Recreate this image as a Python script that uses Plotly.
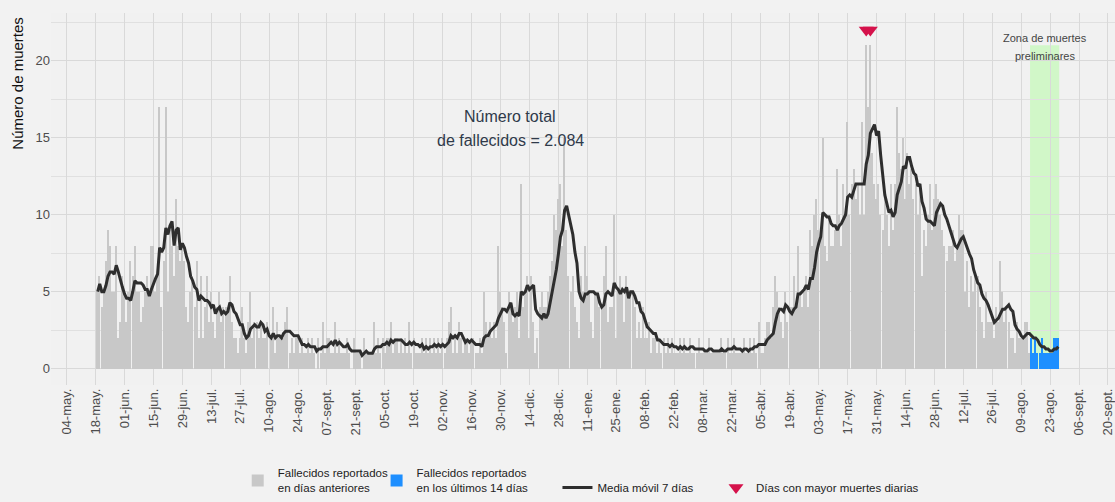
import pandas as pd
import plotly.graph_objects as go

# ---- data: daily deaths (first day 2020-05-19) ----
start_date = "2020-05-19"
may_2020 = [5, 6, 4, 5, 7, 9, 8, 5, 5, 8, 2, 3, 6]
jun_2020 = [5, 3, 5, 7, 6, 8, 5, 5, 3, 4, 5, 6, 5, 8, 8, 5, 6, 17, 4, 7, 17, 5,
            9, 8, 6, 11, 8, 7, 8, 7]
jul_2020 = [4, 3, 5, 6, 4, 7, 2, 6, 2, 4, 6, 3, 5, 3, 2, 4, 5, 3, 4, 4, 4, 6, 3,
            2, 2, 1, 2, 4, 2, 1, 3]
aug_2020 = [5, 2, 3, 3, 2, 3, 2, 2, 3, 0, 2, 4, 1, 3, 2, 2, 2, 3, 4, 1, 2, 1, 2,
            2, 1, 2, 1, 1, 2, 1, 2]
sep_2020 = [1, 0, 2, 1, 3, 1, 2, 2, 1, 1, 3, 1, 2, 1, 1, 1, 2, 1, 0, 2, 1, 1, 1,
            0, 2, 1, 1, 1, 1, 3]
oct_2020 = [1, 2, 1, 2, 1, 2, 2, 3, 1, 2, 2, 1, 2, 1, 2, 1, 3, 1, 2, 1, 1, 1, 2,
            1, 2, 1, 2, 1, 2, 1, 2]
nov_2020 = [1, 2, 1, 2, 3, 4, 1, 2, 1, 3, 2, 1, 2, 2, 1, 2, 2, 1, 1, 2, 1, 5, 3,
            2, 3, 2, 3, 2, 8, 5]
dec_2020 = [4, 3, 1, 5, 4, 3, 4, 5, 2, 12, 4, 5, 6, 2, 6, 3, 1, 2, 4, 5, 4, 4, 5,
            6, 7, 10, 9, 11, 12, 8, 15]
jan_2021 = [9, 6, 5, 6, 4, 3, 2, 6, 5, 8, 6, 5, 3, 2, 5, 5, 4, 4, 6, 8, 3, 4, 4,
            10, 2, 5, 6, 5, 3, 6, 5]
feb_2021 = [5, 5, 4, 2, 3, 2, 4, 2, 2, 3, 1, 2, 2, 1, 2, 1, 2, 1, 2, 1, 2, 1, 1,
            1, 2, 1, 2, 1]
mar_2021 = [1, 2, 1, 1, 1, 2, 1, 1, 1, 1, 2, 1, 1, 1, 1, 1, 2, 1, 1, 2, 1, 1, 2,
            1, 1, 1, 1, 2, 1, 1, 2]
apr_2021 = [1, 2, 1, 3, 1, 1, 2, 3, 3, 2, 4, 6, 5, 4, 3, 2, 5, 3, 4, 4, 6, 4, 8,
            5, 4, 5, 6, 4, 9, 8]
may_2021 = [10, 11, 9, 9, 15, 8, 7, 10, 8, 8, 9, 13, 10, 8, 12, 10, 16, 10, 12,
            13, 11, 12, 10, 16, 10, 21, 17, 21, 14, 12, 11]
jun_2021 = [12, 10, 9, 11, 10, 8, 12, 9, 12, 17, 14, 13, 15, 11, 14, 12, 13, 11,
            12, 10, 12, 6, 9, 8, 10, 12, 9, 11, 12, 11]
jul_2021 = [10, 9, 8, 7, 8, 8, 9, 7, 8, 10, 9, 9, 5, 7, 4, 6, 5, 6, 6, 4, 3, 2, 5,
            3, 3, 3, 2, 4, 3, 7, 5]
aug_2021 = [3, 4, 3, 2, 2, 1, 3, 2, 2, 2, 3, 3, 1, 2, 1, 2, 1, 1, 2, 1, 1, 1, 1,
            1, 2, 2, 2]

recent_days = 14
total_text = "2.084"

tick_labels = ["04-may.", "18-may.", "01-jun.", "15-jun.", "29-jun.", "13-jul.",
               "27-jul.", "10-ago.", "24-ago.", "07-sept.", "21-sept.", "05-oct.",
               "19-oct.", "02-nov.", "16-nov.", "30-nov.", "14-dic.", "28-dic.",
               "11-ene.", "25-ene.", "08-feb.", "22-feb.", "08-mar.", "22-mar.",
               "05-abr.", "19-abr.", "03-may.", "17-may.", "31-may.", "14-jun.",
               "28-jun.", "12-jul.", "26-jul.", "09-ago.", "23-ago.", "06-sept.",
               "20-sept."]
first_tick = "2020-05-04"

# ---- derived ----
deaths = (may_2020 + jun_2020 + jul_2020 + aug_2020 + sep_2020 + oct_2020 +
          nov_2020 + dec_2020 + jan_2021 + feb_2021 + mar_2021 + apr_2021 +
          may_2021 + jun_2021 + jul_2021 + aug_2021)
dates = pd.date_range(start_date, periods=len(deaths), freq="D")
s = pd.Series(deaths, index=dates)
ma7 = s.rolling(7, min_periods=1).mean()
old = s.iloc[:-recent_days]
new = s.iloc[-recent_days:]
peaks = s[s == s.max()]
tick_vals = pd.date_range(first_tick, periods=len(tick_labels), freq="14D")

FONT = "Arial, Liberation Sans, sans-serif"
DAY = 86400000
GRID = "#d9d9d9"

fig = go.Figure()
fig.add_trace(go.Bar(x=old.index, y=old.values, width=0.72 * DAY,
                     marker=dict(color="#c8c8c8", line=dict(width=0)),
                     name="Fallecidos reportados<br>en días anteriores",
                     legend="legend"))
fig.add_trace(go.Bar(x=new.index, y=new.values, width=0.72 * DAY,
                     marker=dict(color="#1e8fff", line=dict(width=0)),
                     name="Fallecidos reportados<br>en los últimos 14 días",
                     legend="legend2"))
fig.add_trace(go.Scatter(x=ma7.index, y=ma7.values, mode="lines",
                         line=dict(color="#2e2e2e", width=3),
                         name="Media móvil 7 días", legend="legend3"))
fig.add_trace(go.Scatter(x=peaks.index, y=peaks.values + 1, mode="markers",
                         marker=dict(symbol="triangle-down", size=13,
                                     color="#d5124b"),
                         name="Días con mayor muertes diarias", legend="legend4"))

zone_start = new.index[0] - pd.Timedelta(hours=17)
zone_end = new.index[-1] + pd.Timedelta(hours=10)
fig.add_shape(type="rect", xref="x", yref="y", x0=zone_start, x1=zone_end,
              y0=0, y1=21, fillcolor="rgba(170,255,150,0.45)",
              line=dict(width=0), layer="below")

zone_mid = zone_start + (zone_end - zone_start) / 2
fig.add_annotation(x=zone_mid, y=21.5, xref="x", yref="y", text="Zona de muertes",
                   showarrow=False, font=dict(family=FONT, size=11, color="#444444"))
fig.add_annotation(x=zone_mid, y=20.3, xref="x", yref="y", text="preliminares",
                   showarrow=False, font=dict(family=FONT, size=11, color="#444444"))
fig.add_annotation(x=pd.Timestamp("2020-12-04 14:00"), y=16.4, xref="x", yref="y",
                   text="Número total", showarrow=False,
                   font=dict(family=FONT, size=16, color="#2f3a4a"))
fig.add_annotation(x=pd.Timestamp("2020-12-04 14:00"), y=14.8, xref="x", yref="y",
                   text="de fallecidos = " + total_text, showarrow=False,
                   font=dict(family=FONT, size=16, color="#2f3a4a"))
# y-axis title (placed like the reference: near the top, left edge)
fig.add_annotation(x=-0.031, y=0.81, xref="paper", yref="paper",
                   text="Número de muertes", textangle=-90, showarrow=False,
                   xanchor="center", yanchor="middle",
                   font=dict(family=FONT, size=15, color="#111111"))

legend_style = dict(orientation="h", xanchor="left", yref="container",
                    y=0, yanchor="bottom",
                    font=dict(family=FONT, size=11.5, color="#222222"),
                    bgcolor="rgba(0,0,0,0)", itemwidth=30)

fig.update_layout(
    width=1115, height=502,
    margin=dict(l=51, r=0, t=13, b=117),
    paper_bgcolor="#f2f2f2", plot_bgcolor="#f1f1f1",
    barmode="overlay", bargap=0,
    font=dict(family=FONT, size=13, color="#4d4d4d"),
    showlegend=True,
    legend=dict(x=0.1755, **legend_style),
    legend2=dict(x=0.306, **legend_style),
    legend3=dict(x=0.476, **legend_style),
    legend4=dict(x=0.625, **legend_style),
)
fig.update_xaxes(
    range=[pd.Timestamp("2020-04-26 10:00"), pd.Timestamp("2021-09-23 10:00")],
    tickmode="array", tickvals=tick_vals, ticktext=tick_labels, tickangle=-90,
    showgrid=True, gridcolor=GRID, gridwidth=1, zeroline=False, showline=False,
    ticks="", automargin=False, ticklabeloverflow="allow",
    tickfont=dict(family=FONT, size=13, color="#4d4d4d"),
)
fig.update_yaxes(
    range=[-1.06, 23.1], tickvals=[0, 5, 10, 15, 20],
    showgrid=True, gridcolor=GRID, gridwidth=1, zeroline=False, showline=False,
    automargin=False,
    minor=dict(dtick=2.5, tick0=0, showgrid=True, gridcolor="#e0e0e0", gridwidth=1),
    tickfont=dict(family=FONT, size=13, color="#4d4d4d"),
)

fig.write_html("out.html", config={"displayModeBar": False},
               post_script="document.body.style.margin='0px';"
                           "document.body.style.background='#f2f2f2';")
